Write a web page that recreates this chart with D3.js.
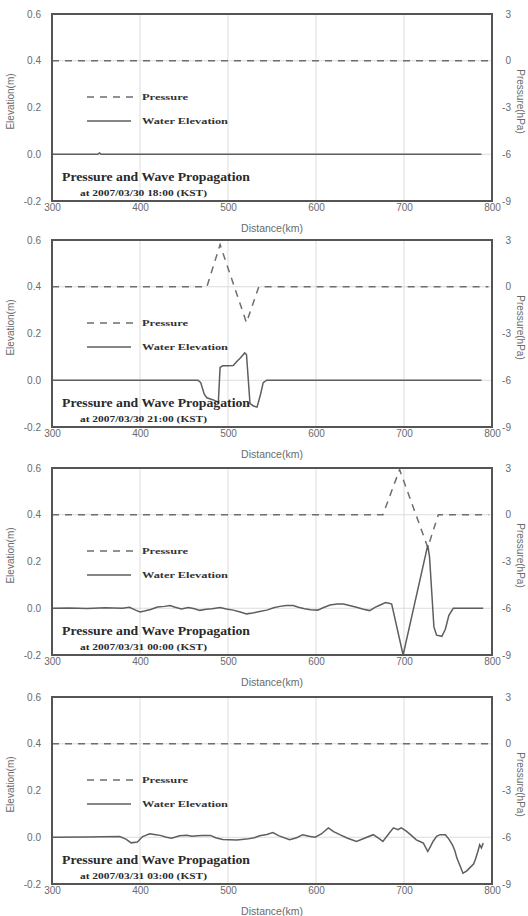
<!DOCTYPE html>
<html><head><meta charset="utf-8">
<script src="https://cdn.jsdelivr.net/npm/d3@7"></script>
<style>
html,body{margin:0;padding:0;background:#fff;}
svg{display:block;}
</style></head>
<body><svg id="c" width="528" height="916"></svg>
<script>
// ---- data ----
const distTicks = [300, 400, 500, 600, 700, 800];
const elevTicks = [-0.2, 0.0, 0.2, 0.4, 0.6];
const presTicks = [-9, -6, -3, 0, 3];
const gridDist = [400, 500, 600, 700];
const gridElev = [0.0, 0.4];
const timestamps = ["2007/03/30 18:00", "2007/03/30 21:00", "2007/03/31 00:00", "2007/03/31 03:00"];

// pressure (hPa) along distance (km)
const pressure1 = [[300,0],[796,0]];
const pressure2 = [[300,0],[476,0],[491,2.7],[521,-2.3],[535,0],[796,0]];
const pressure3 = [[300,0],[676,0],[695,2.9],[727,-2.1],[739,0],[796,0]];
const pressure4 = [[300,0],[796,0]];

// water elevation (m) along distance (km)
const water1 = [[300,0],[352,0],[354,0.006],[356,0],[788,0]];
const water2 = [[300,0],[466,0],[469,-0.01],[473,-0.06],[476,-0.075],[480,-0.08],[484,-0.085],[487,-0.09],[489,-0.095],
  [491,0.055],[494,0.062],[500,0.062],[506,0.063],[510,0.08],[514,0.095],[519,0.117],[521,0.11],[525,-0.1],
  [529,-0.11],[533,-0.115],[537,-0.06],[540,-0.01],[544,0],[788,0]];
const water3 = [[300,0],[320,0.001],[340,-0.001],[360,0.002],[380,0],[388,0.004],[395,-0.008],[400,-0.016],[405,-0.012],
  [412,-0.005],[420,0.005],[428,0.008],[434,0.012],[440,0.004],[447,-0.003],[455,0.003],[462,-0.002],[468,-0.009],
  [475,-0.004],[482,-0.002],[491,0.003],[498,-0.003],[506,-0.008],[514,-0.016],[521,-0.024],[528,-0.02],[536,-0.014],
  [544,-0.008],[552,0.002],[559,0.008],[566,0.012],[574,0.012],[580,0.004],[587,-0.002],[594,-0.006],[602,-0.008],
  [608,0.002],[616,0.014],[624,0.018],[631,0.018],[638,0.012],[646,0.004],[654,-0.004],[661,-0.01],[667,0.004],
  [673,0.014],[679,0.024],[684,0.02],[686,0.018],[699,-0.2],[727,0.27],[729,0.22],[734,-0.08],[737,-0.115],
  [743,-0.12],[747,-0.09],[751,-0.03],[756,0],[790,0]];
const water4 = [[300,0],[340,0.001],[377,0.003],[384,-0.008],[390,-0.024],[397,-0.02],[403,0.003],[411,0.015],[418,0.011],
  [423,0.008],[430,0],[436,-0.004],[445,0.006],[453,0.009],[459,0.004],[465,0.006],[471,0.008],[480,0.008],[486,-0.002],
  [494,-0.01],[502,-0.011],[510,-0.012],[521,-0.008],[530,-0.002],[536,0.006],[544,0.012],[551,0.02],[558,0.006],
  [570,-0.011],[578,-0.002],[585,0.011],[592,0.004],[599,0],[606,0.014],[614,0.04],[620,0.024],[627,0.011],[636,-0.004],
  [646,-0.018],[655,-0.004],[665,0.011],[671,-0.004],[676,-0.018],[682,0.012],[688,0.04],[693,0.032],[697,0.04],
  [703,0.025],[709,0.006],[714,-0.011],[718,-0.018],[722,-0.025],[727,-0.061],[730,-0.04],[733,-0.018],[737,0.004],
  [741,0.011],[747,0.011],[751,-0.008],[755,-0.032],[758,-0.06],[760,-0.088],[764,-0.125],[767,-0.154],[771,-0.145],
  [775,-0.13],[779,-0.115],[781,-0.096],[784,-0.06],[786,-0.032],[788,-0.046],[790,-0.025]];

const pressures = [pressure1, pressure2, pressure3, pressure4];
const waters = [water1, water2, water3, water4];

// ---- layout ----
const svg = d3.select("#c");
const L = 52, R = 492, H = 187;
const tops = [14, 240, 468, 697];
const sans = "'Liberation Sans', Arial, sans-serif";
const serif = "'Liberation Serif', 'Times New Roman', serif";

const x = d3.scaleLinear().domain([300, 800]).range([L, R]);
const y = d3.scaleLinear().domain([-0.2, 0.6]).range([H, 0]);
const yp = d3.scaleLinear().domain([-9, 3]).range([H, 0]);

tops.forEach((top, i) => {
  const g = svg.append("g").attr("transform", `translate(0,${top})`);

  // grid
  g.selectAll(".gv").data(gridDist).join("line")
    .attr("x1", d => x(d)).attr("x2", d => x(d)).attr("y1", 0).attr("y2", H)
    .attr("stroke", "#d4d4d4").attr("stroke-width", 0.8);
  g.selectAll(".gh").data(gridElev).join("line")
    .attr("x1", L).attr("x2", R).attr("y1", d => y(d)).attr("y2", d => y(d))
    .attr("stroke", "#d4d4d4").attr("stroke-width", 0.8);

  // axes
  const ax = g.append("g").attr("transform", `translate(0,${H})`)
    .call(d3.axisBottom(x).tickValues(distTicks).tickSize(0).tickPadding(4).tickFormat(d => String(d)));
  const ay = g.append("g").attr("transform", `translate(${L},0)`)
    .call(d3.axisLeft(y).tickValues(elevTicks).tickSize(0).tickPadding(11).tickFormat(d => d.toFixed(1)));
  const ayr = g.append("g").attr("transform", `translate(${R},0)`)
    .call(d3.axisRight(yp).tickValues(presTicks).tickSize(0).tickPadding(19).tickFormat(d => String(d)));
  [ax, ay, ayr].forEach(a => {
    a.select(".domain").remove();
    a.selectAll("text").attr("fill", "#6a6a6a").style("font-family", sans).style("font-size", "10px");
  });
  ayr.selectAll("text").attr("text-anchor", "end");
  ax.selectAll("text").attr("dy", "0.55em");

  // axis titles
  g.append("text").attr("transform", `translate(14,${H/2 - 6}) rotate(-90)`)
    .attr("text-anchor", "middle").attr("fill", "#6a6a6a")
    .style("font-family", sans).style("font-size", "10px").text("Elevation(m)");
  g.append("text").attr("transform", `translate(517,${H/2 - 6}) rotate(90)`)
    .attr("text-anchor", "middle").attr("fill", "#6a6a6a")
    .style("font-family", sans).style("font-size", "10px").text("Pressure(hPa)");
  g.append("text").attr("x", (L + R) / 2).attr("y", H + 31)
    .attr("text-anchor", "middle").attr("fill", "#6a6a6a")
    .style("font-family", sans).style("font-size", "10.5px").text("Distance(km)");

  // lines
  const clip = "clip" + i;
  g.append("clipPath").attr("id", clip).append("rect").attr("x", L).attr("y", 0).attr("width", R - L).attr("height", H);
  g.append("path").datum(pressures[i])
    .attr("clip-path", `url(#${clip})`)
    .attr("d", d3.line().x(d => x(d[0])).y(d => yp(d[1])))
    .attr("fill", "none").attr("stroke", "#6e6e6e").attr("stroke-width", 1.5).attr("stroke-dasharray", "7,6");
  g.append("path").datum(waters[i])
    .attr("clip-path", `url(#${clip})`)
    .attr("d", d3.line().x(d => x(d[0])).y(d => y(d[1])))
    .attr("fill", "none").attr("stroke", "#5e5e5e").attr("stroke-width", 1.5);

  // frame
  g.append("rect").attr("x", L).attr("y", 0).attr("width", R - L).attr("height", H)
    .attr("fill", "none").attr("stroke", "#555").attr("stroke-width", 2);

  // legend
  g.append("line").attr("x1", 87).attr("x2", 134).attr("y1", 83).attr("y2", 83)
    .attr("stroke", "#6e6e6e").attr("stroke-width", 1.3).attr("stroke-dasharray", "7,6");
  g.append("line").attr("x1", 87).attr("x2", 131).attr("y1", 107).attr("y2", 107)
    .attr("stroke", "#5e5e5e").attr("stroke-width", 1.3);
  g.append("text").attr("x", 142).attr("y", 86).attr("fill", "#333")
    .style("font-family", serif).style("font-weight", "bold").style("font-size", "9px")
    .attr("textLength", 46).attr("lengthAdjust", "spacingAndGlyphs").text("Pressure");
  g.append("text").attr("x", 142).attr("y", 110).attr("fill", "#333")
    .style("font-family", serif).style("font-weight", "bold").style("font-size", "9px")
    .attr("textLength", 86).attr("lengthAdjust", "spacingAndGlyphs").text("Water Elevation");

  // title
  g.append("text").attr("x", 62).attr("y", 167).attr("fill", "#2a2a2a")
    .style("font-family", serif).style("font-weight", "bold").style("font-size", "12.5px")
    .attr("textLength", 188).attr("lengthAdjust", "spacingAndGlyphs").text("Pressure and Wave Propagation");
  g.append("text").attr("x", 80).attr("y", 182).attr("fill", "#2a2a2a")
    .style("font-family", serif).style("font-weight", "bold").style("font-size", "8.5px")
    .attr("textLength", 127).attr("lengthAdjust", "spacingAndGlyphs").text(`at ${timestamps[i]} (KST)`);
});
</script></body></html>
